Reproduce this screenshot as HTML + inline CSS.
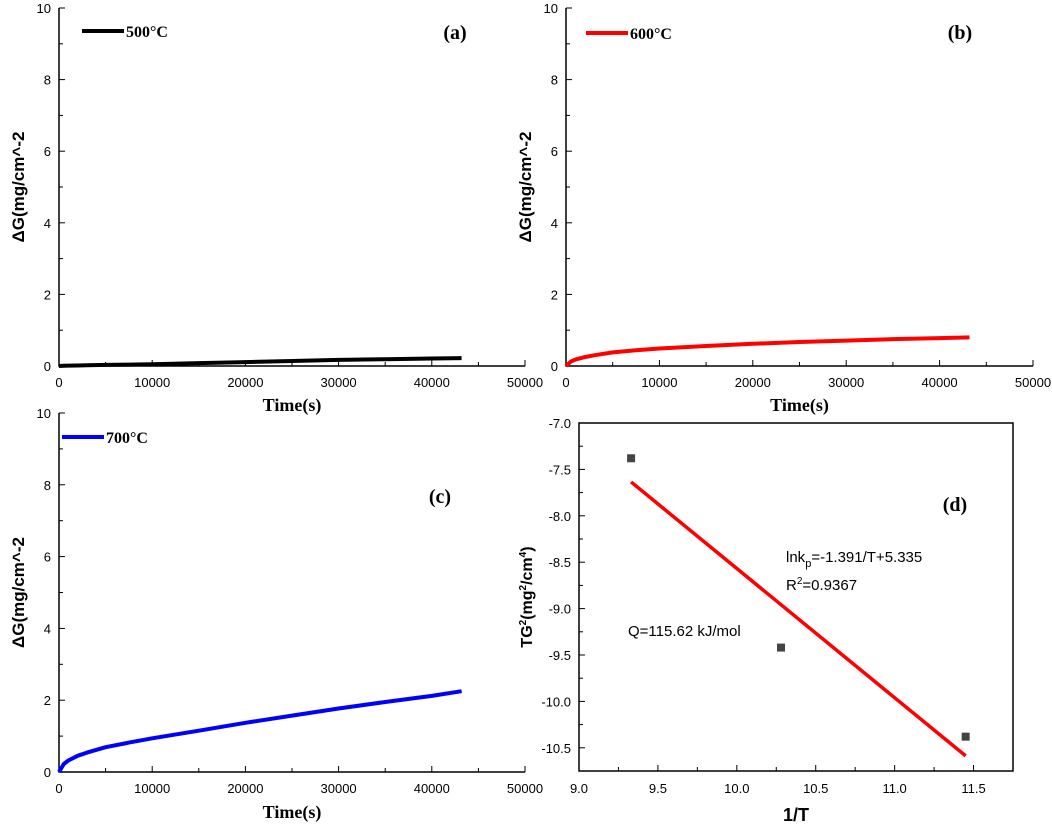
<!DOCTYPE html>
<html><head><meta charset="utf-8"><style>
body{margin:0;background:#fff;}
svg{display:block;font-family:"Liberation Sans",Arial,sans-serif;}
.tk{font-size:13px;fill:#000;}
.bt{font-family:"Liberation Serif",serif;font-weight:bold;}
</style></head><body>
<svg id="c" width="1052" height="827" viewBox="0 0 1052 827"></svg>
<script>
const timeS=[0,500,1000,2000,3000,5000,7500,10000,15000,20000,25000,30000,35000,40000,43200];
const g500=[0,0.005,0.01,0.015,0.02,0.03,0.04,0.05,0.08,0.11,0.14,0.17,0.19,0.21,0.22];
const g600=[0,0.12,0.18,0.25,0.3,0.38,0.44,0.49,0.56,0.62,0.67,0.71,0.75,0.78,0.8];
const g700=[0,0.22,0.32,0.45,0.54,0.69,0.82,0.94,1.15,1.37,1.57,1.77,1.95,2.12,2.25];
const invT=[9.33,10.28,11.45];
const tg2=[-7.38,-9.42,-10.38];
const timeTicks=[0,10000,20000,30000,40000,50000];
const gTicks=[0,2,4,6,8,10];
const dxTicks=[9.0,9.5,10.0,10.5,11.0,11.5];
const dyTicks=[-7.0,-7.5,-8.0,-8.5,-9.0,-9.5,-10.0,-10.5];

const NS="http://www.w3.org/2000/svg";
const svg=document.getElementById('c');
function mk(tag,attrs,parent,txt){const e=document.createElementNS(NS,tag);for(const k in attrs)e.setAttribute(k,attrs[k]);if(txt!==undefined)e.textContent=txt;(parent||svg).appendChild(e);return e;}

function timePanel(id,x0,x1,yT,yB,vals,color,leg,lx,ly,tag,tx,ty,titleY){
  const g=mk('g',{});
  
  
  const sx=v=>x0+(x1-x0)*v/50000, sy=v=>yB-(yB-yT)*v/10;
  const ax=mk('path',{d:`M${x0},${yT}V${yB}H${x1}`,stroke:'#000','stroke-width':1.5,fill:'none'},g);
  
  
  for(let v=0;v<=10;v++){const y=sy(v);mk('line',{x1:x0,x2:x0+(v%2?4:6),y1:y,y2:y,stroke:'#000'},g);}
  gTicks.forEach(v=>{const t=mk('text',{x:x0-8,y:sy(v)+5,'text-anchor':'end',class:'tk'},g,v);});
  for(let v=0;v<=50000;v+=5000){const x=sx(v);mk('line',{x1:x,x2:x,y1:yB,y2:yB-(v%10000?4:6),stroke:'#000'},g);}
  timeTicks.forEach(v=>{const t=mk('text',{x:sx(v),y:yB+21,'text-anchor':'middle',class:'tk'},g,v);});
  const xt=mk('text',{x:(x0+x1)/2,y:titleY,'text-anchor':'middle',class:'bt','font-size':18},g,'Time(s)');
  
  const yx=x0-35, yy=(yT+yB)/2;
  const yt=mk('text',{x:yx,y:yy,'text-anchor':'middle','font-weight':'bold','font-size':17,transform:`rotate(-90 ${yx} ${yy})`},g,'ΔG(mg/cm^-2');
  
  const pts=timeS.map((t,i)=>`${sx(t).toFixed(1)},${sy(vals[i]).toFixed(1)}`).join(' ');
  const pl=mk('polyline',{points:pts,stroke:color,'stroke-width':4,fill:'none','stroke-linejoin':'round'},g);
  
  const ll=mk('line',{x1:lx,x2:lx+42,y1:ly,y2:ly,stroke:color,'stroke-width':4},g);
  
  const lt=mk('text',{x:lx+44,y:ly+6,class:'bt','font-size':16},g,leg);
  
  const pt=mk('text',{x:tx,y:ty,'text-anchor':'middle',class:'bt','font-size':20},g,tag);
  
}
timePanel('a',59,525,8,366,g500,'#000','500°C',82,31,'(a)',455,39,411);
timePanel('b',566,1033,8,366,g600,'#f00','600°C',586,33,'(b)',960,39,411);
timePanel('c',59,525,413,772,g700,'#00f','700°C',62,437,'(c)',440,503,818);

// panel d
(function(){
  const g=mk('g',{});
  
  
  const x0=579,x1=1013,yT=423,yB=771;
  const sx=v=>x0+(x1-x0)*(v-9)/2.75, sy=v=>yT+(yB-yT)*(-7-v)/3.75;
  const fr=mk('rect',{x:x0,y:yT,width:x1-x0,height:yB-yT,fill:'none',stroke:'#000','stroke-width':1.5},g);
  
  for(let v=9;v<=11.76;v+=0.25){const x=sx(v);const maj=Math.abs(v*2-Math.round(v*2))<1e-6;mk('line',{x1:x,x2:x,y1:yB,y2:yB-(maj?6:4),stroke:'#000'},g);}
  for(let v=-7;v>=-10.76;v-=0.25){const y=sy(v);const maj=Math.abs(v*2-Math.round(v*2))<1e-6;mk('line',{x1:x0,x2:x0+(maj?6:4),y1:y,y2:y,stroke:'#000'},g);}
  dxTicks.forEach(v=>{const t=mk('text',{x:sx(v),y:yB+22,'text-anchor':'middle',class:'tk'},g,v.toFixed(1));});
  dyTicks.forEach(v=>{const t=mk('text',{x:x0-8,y:sy(v)+5,'text-anchor':'end',class:'tk'},g,v.toFixed(1));});
  const xt=mk('text',{x:(x0+x1)/2,y:yB+50,'text-anchor':'middle','font-weight':'bold','font-size':18},g,'1/T');
  
  const yx=532,yy=(yT+yB)/2;
  const yt=mk('text',{x:yx,y:yy,'text-anchor':'middle','font-weight':'bold','font-size':16,transform:`rotate(-90 ${yx} ${yy})`},g);
  
  yt.innerHTML='TG<tspan dy="-6" font-size="10">2</tspan><tspan dy="6">(mg</tspan><tspan dy="-6" font-size="10">2</tspan><tspan dy="6">/cm</tspan><tspan dy="-6" font-size="10">4</tspan><tspan dy="6">)</tspan>';
  const n=invT.length,mx=invT.reduce((a,b)=>a+b)/n,my=tg2.reduce((a,b)=>a+b)/n;
  let sxx=0,sxy=0;for(let i=0;i<n;i++){sxx+=(invT[i]-mx)**2;sxy+=(invT[i]-mx)*(tg2[i]-my);}
  const m=sxy/sxx,b=my-m*mx;const xa=Math.min(...invT),xb=Math.max(...invT);
  const fl=mk('line',{x1:sx(xa),y1:sy(m*xa+b),x2:sx(xb),y2:sy(m*xb+b),stroke:'#f00','stroke-width':3.5},g);
  
  invT.forEach((v,i)=>{const r=mk('rect',{x:sx(v)-4,y:sy(tg2[i])-4,width:8,height:8,fill:'#444'},g);});
  const e1=mk('text',{x:786,y:562,'font-size':15},g);
  
  e1.innerHTML='lnk<tspan dy="5" font-size="11">p</tspan><tspan dy="-5">=-1.391/T+5.335</tspan>';
  const e2=mk('text',{x:786,y:590,'font-size':15},g);
  
  e2.innerHTML='R<tspan dy="-6" font-size="10">2</tspan><tspan dy="6">=0.9367</tspan>';
  const e3=mk('text',{x:628,y:636,'font-size':15},g,'Q=115.62 kJ/mol');
  
  const pt=mk('text',{x:955,y:511,'text-anchor':'middle',class:'bt','font-size':20},g,'(d)');
  
})();
</script>
</body></html>
